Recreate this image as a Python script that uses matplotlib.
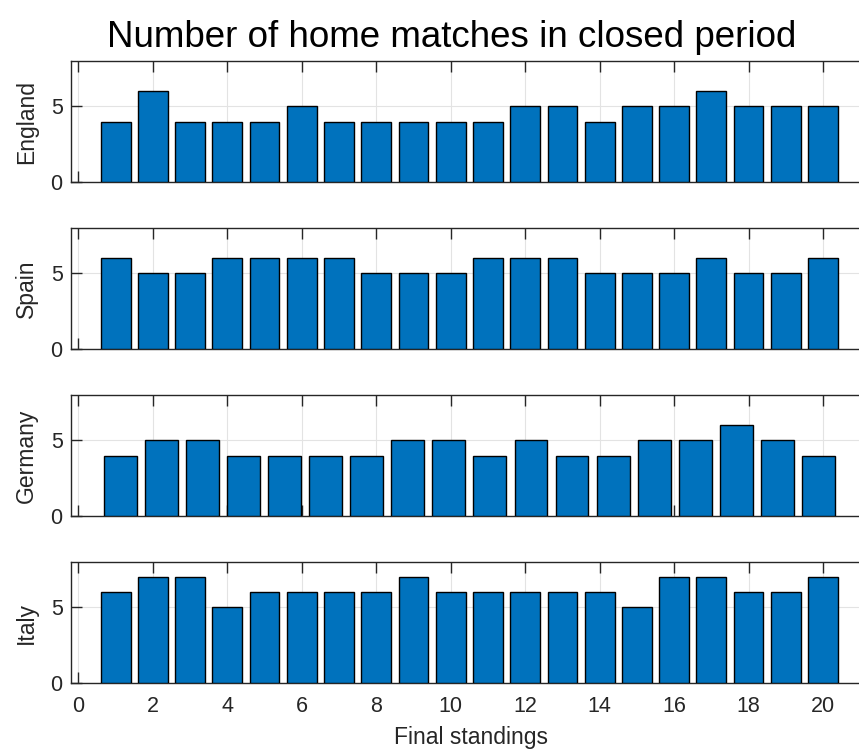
import numpy as np
import matplotlib
matplotlib.use('Agg')
import matplotlib.pyplot as plt

plt.rcParams['font.family'] = ['Liberation Sans', 'DejaVu Sans']

#%% data: home matches in closed period, by final standing
countries = ['England', 'Spain', 'Germany', 'Italy']
england = [4, 6, 4, 4, 4, 5, 4, 4, 4, 4, 4, 5, 5, 4, 5, 5, 6, 5, 5, 5]
spain = [6, 5, 5, 6, 6, 6, 6, 5, 5, 5, 6, 6, 6, 5, 5, 5, 6, 5, 5, 6]
germany = [4, 5, 5, 4, 4, 4, 4, 5, 5, 4, 5, 4, 4, 5, 5, 6, 5, 4]
italy = [6, 7, 7, 5, 6, 6, 6, 6, 7, 6, 6, 6, 6, 6, 5, 7, 7, 6, 6, 7]

# 18 team league is stretched over the 20 team axis
pos_20 = np.arange(1, 21)
pos_18 = np.linspace(1.125, 19.875, 18)

data = {'England': (pos_20, england),
        'Spain': (pos_20, spain),
        'Germany': (pos_18, germany),
        'Italy': (pos_20, italy)}

#%% plot
W, H = 859, 751
fig = plt.figure(figsize=(W / 100, H / 100), dpi=100)

bar_col = '#0072BD'
axcol = '#262626'
xmin, xmax = -0.2, 21.3
px_per_unit = 37.23
left = 71
tops = [61, 228, 395, 562]
ax_h = 121

for i, name in enumerate(countries):
    x, y = data[name]
    width_px = (xmax - xmin) * px_per_unit
    ax = fig.add_axes([left / W, 1 - (tops[i] + ax_h) / H, width_px / W, ax_h / H])
    step = x[1] - x[0]
    ax.bar(x, y, width=0.8 * step, color=bar_col, edgecolor='black',
           linewidth=1.0, zorder=3)
    ax.set_xlim(xmin, xmax)
    ax.set_ylim(0, 8)
    ax.set_xticks(np.arange(0, 21, 2))
    ax.set_yticks([0, 5])
    ax.grid(True, color='#e3e3e3', linewidth=0.8, zorder=0)
    ax.set_axisbelow(True)
    ax.tick_params(direction='in', length=8, width=1, color=axcol,
                   labelcolor=axcol, labelsize=15.5, top=True, right=True)
    ax.tick_params(axis='y', pad=6)
    ax.tick_params(axis='x', pad=9)
    for s in ax.spines.values():
        s.set_color(axcol)
        s.set_linewidth(1.0)
    ax.set_ylabel(name, fontsize=16.5, color=axcol, labelpad=9)
    if i < 3:
        ax.tick_params(labelbottom=False)
    else:
        ax.set_xlabel('Final standings', fontsize=16.5, color=axcol, labelpad=7)
    if i == 0:
        ax.set_title('Number of home matches in closed period', fontsize=26.5,
                     color='black', pad=10, x=(452 - left) / width_px)

plt.savefig('out.png', dpi=100)
